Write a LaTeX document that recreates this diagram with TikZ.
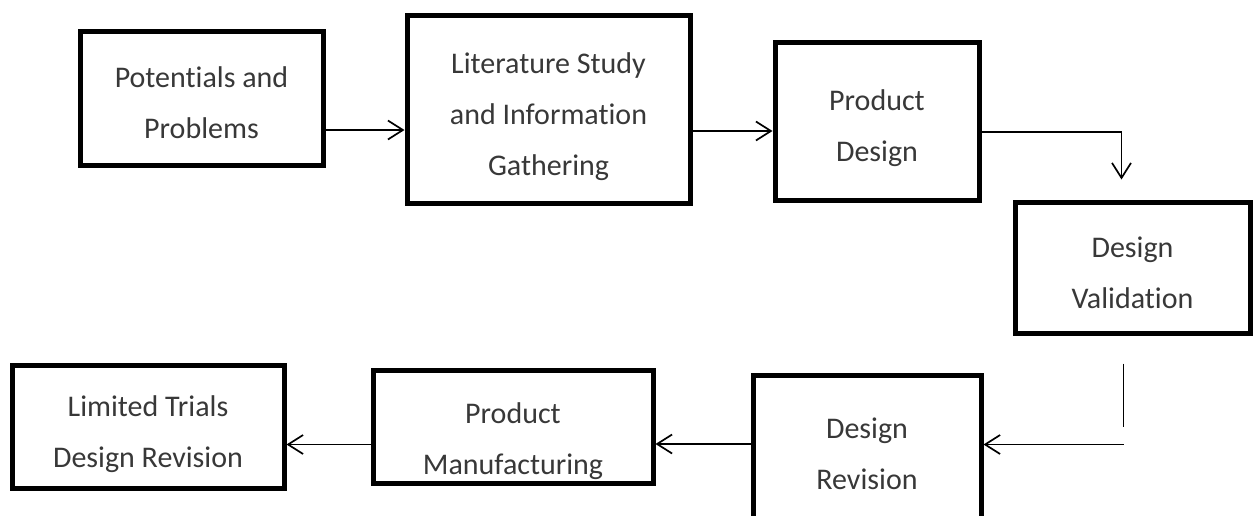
\documentclass[tikz,border=0pt]{standalone}
\usepackage{fontspec}
\setmainfont{Carlito}[Ligatures=NoCommon]
\usetikzlibrary{arrows.meta}
\newcommand{\boxlines}[2][5pt]{\raisebox{-#1}[\height][\depth]{\begin{tabular}{@{}c@{}}#2\end{tabular}}}

\begin{document}
\begin{tikzpicture}[x=1pt,y=-1pt]
\tikzstyle{every node}+=[inner sep=0pt]
\tikzstyle{box}=[draw, line width=5pt, text=black!78, font=\fontsize{30}{51}\selectfont]
\tikzstyle{arr}=[line width=1.7pt, -{Straight Barb[length=15pt,width=19pt,line width=1.7pt]}]
\useasboundingbox (0,0) rectangle (1253,515);
\clip (0,0) rectangle (1253,515);
\node [box, minimum width=243pt, minimum height=134pt] (pot) at (201.5,98) {\boxlines{Potentials and\\Problems}};
\node [box, minimum width=283pt, minimum height=188pt] (lit) at (548.5,109) {\boxlines{Literature Study\\and Information\\Gathering}};
\node [box, minimum width=204pt, minimum height=158pt] (des) at (877,121) {\boxlines{Product\\Design}};
\node [box, minimum width=235pt, minimum height=131pt] (val) at (1132.5,267.5) {\boxlines{Design\\Validation}};
\node [box, minimum width=228pt, minimum height=156pt] (rev) at (867,453) {\boxlines[1pt]{Design\\Revision}};
\node [box, minimum width=280pt, minimum height=113pt] (man) at (513,426.5) {\boxlines[12pt]{Product\\Manufacturing}};
\node [box, minimum width=272pt, minimum height=123pt] (lim) at (148,426.5) {\boxlines{Limited Trials\\Design Revision}};
\draw [arr] ([yshift=-32pt]pot.east) -- ([yshift=-32pt]pot.east -| lit.west);
\draw [arr] ([yshift=-22pt]lit.east) -- ([yshift=-22pt]lit.east -| des.west);
\draw [arr] ([yshift=-11pt]des.east) -| ([xshift=-11pt,yshift=20pt]val.north);
\coordinate (vtop) at ([xshift=-9pt,yshift=-28pt]val.south);
\coordinate (vbot) at ([xshift=-9pt,yshift=-91pt]val.south);
\draw [line width=1.5pt] (vtop) -- (vbot);
\coordinate (hstart) at ([xshift=-9pt,yshift=-109pt]val.south);
\draw [arr] (hstart) -- (hstart -| rev.east);
\draw [arr] ([yshift=9pt]rev.west) -- ([yshift=9pt]rev.west -| man.east);
\draw [arr] ([yshift=-18pt]man.west) -- ([yshift=-18pt]man.west -| lim.east);
\end{tikzpicture}
\end{document}
